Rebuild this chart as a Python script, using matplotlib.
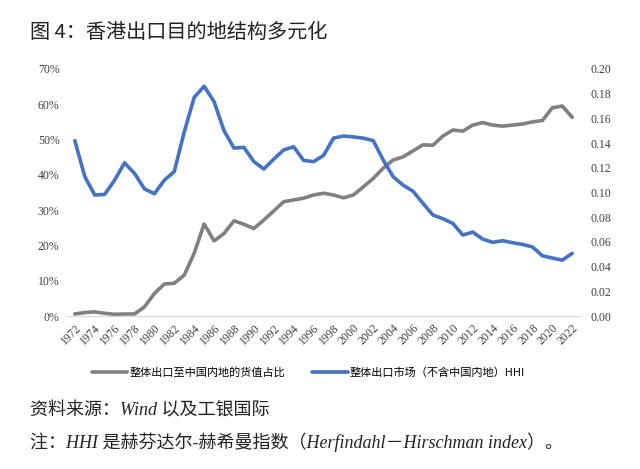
import matplotlib
matplotlib.use('Agg')
import matplotlib.pyplot as plt
import matplotlib.ticker as mticker
import numpy as np

plt.rcParams['font.family'] = ['Liberation Serif', 'Noto Sans CJK SC']

years = list(range(1972, 2023))
share_mainland = [0.6, 1.0, 1.2, 0.8, 0.5, 0.6, 0.6, 2.6, 6.4, 9.1,
                  9.3, 11.6, 17.8, 26.1, 21.3, 23.4, 27.0, 26.0, 24.8, 27.2,
                  29.8, 32.4, 32.9, 33.4, 34.3, 34.8, 34.3, 33.5, 34.3, 36.6,
                  39.0, 41.9, 44.2, 45.1, 46.8, 48.5, 48.4, 51.0, 52.7, 52.4,
                  54.1, 54.8, 54.1, 53.8, 54.1, 54.4, 55.0, 55.4, 59.0, 59.5,
                  56.3]
hhi = [0.142, 0.113, 0.098, 0.0985, 0.110, 0.124, 0.1155, 0.103, 0.099, 0.110,
       0.117, 0.149, 0.177, 0.186, 0.1735, 0.150, 0.136, 0.1365, 0.125, 0.119,
       0.127, 0.1345, 0.137, 0.126, 0.125, 0.130, 0.144, 0.1457, 0.145, 0.144,
       0.142, 0.1263, 0.1128, 0.106, 0.101, 0.0912, 0.0818, 0.0788, 0.075, 0.0656,
       0.068, 0.0623, 0.0597, 0.061, 0.0594, 0.058, 0.056, 0.0488, 0.047, 0.0453,
       0.0508]

gray = '#808080'
blue = '#4472C4'

fig = plt.figure(figsize=(6.4, 4.69), dpi=100)
ax = fig.add_axes([0.106, 0.326, 0.799, 0.527])
ax2 = ax.twinx()

x = np.arange(len(years))
l1, = ax.plot(x, share_mainland, color=gray, lw=2.6, solid_capstyle='round')
l2, = ax2.plot(x, hhi, color=blue, lw=2.6, solid_capstyle='round')

ax.set_xlim(-0.7, len(years) - 0.3)
ax.set_ylim(0, 70)
ax2.set_ylim(0, 0.20)
ax.yaxis.set_major_locator(mticker.MultipleLocator(10))
ax.yaxis.set_major_formatter(mticker.FuncFormatter(lambda v, p: '%d%%' % v))
ax2.yaxis.set_major_locator(mticker.MultipleLocator(0.02))
ax2.yaxis.set_major_formatter(mticker.FormatStrFormatter('%.2f'))

ax.set_xticks(x[::2])
ax.set_xticklabels([str(y) for y in years[::2]], rotation=45, ha='right',
                   rotation_mode='anchor', fontsize=8.5)

for a in (ax, ax2):
    for s in ('top', 'left', 'right'):
        a.spines[s].set_visible(False)
    a.spines['bottom'].set_color('#d9d9d9')
    a.tick_params(length=0, labelsize=8.5, colors='#404040')
ax.tick_params(axis='y', pad=6)
ax2.tick_params(axis='y', pad=8)
ax.tick_params(axis='x', pad=4)

fig.text(0.047, 0.93, '图 4：香港出口目的地结构多元化', fontsize=14.5, va='center',
         family=['Noto Sans CJK SC'], color='#222222')

fig.legend([l1, l2], ['整体出口至中国内地的货值占比', '整体出口市场（不含中国内地）HHI'],
           loc='center', bbox_to_anchor=(0.482, 0.205), ncol=2, frameon=False,
           prop={'family': ['Noto Sans CJK SC'], 'size': 8}, handlelength=3.2,
           columnspacing=2.4, handletextpad=0.2)

fig.text(0.047, 0.124, '资料来源：Wind 以及工银国际', fontsize=13, style='italic',
         va='center', family=['Liberation Serif', 'Noto Sans CJK SC'], color='#222222')
fig.text(0.047, 0.058, '注：HHI 是赫芬达尔-赫希曼指数（Herfindahl－Hirschman index）。',
         fontsize=13, style='italic', va='center',
         family=['Liberation Serif', 'Noto Sans CJK SC'], color='#222222')

fig.savefig('out.png', dpi=100)
